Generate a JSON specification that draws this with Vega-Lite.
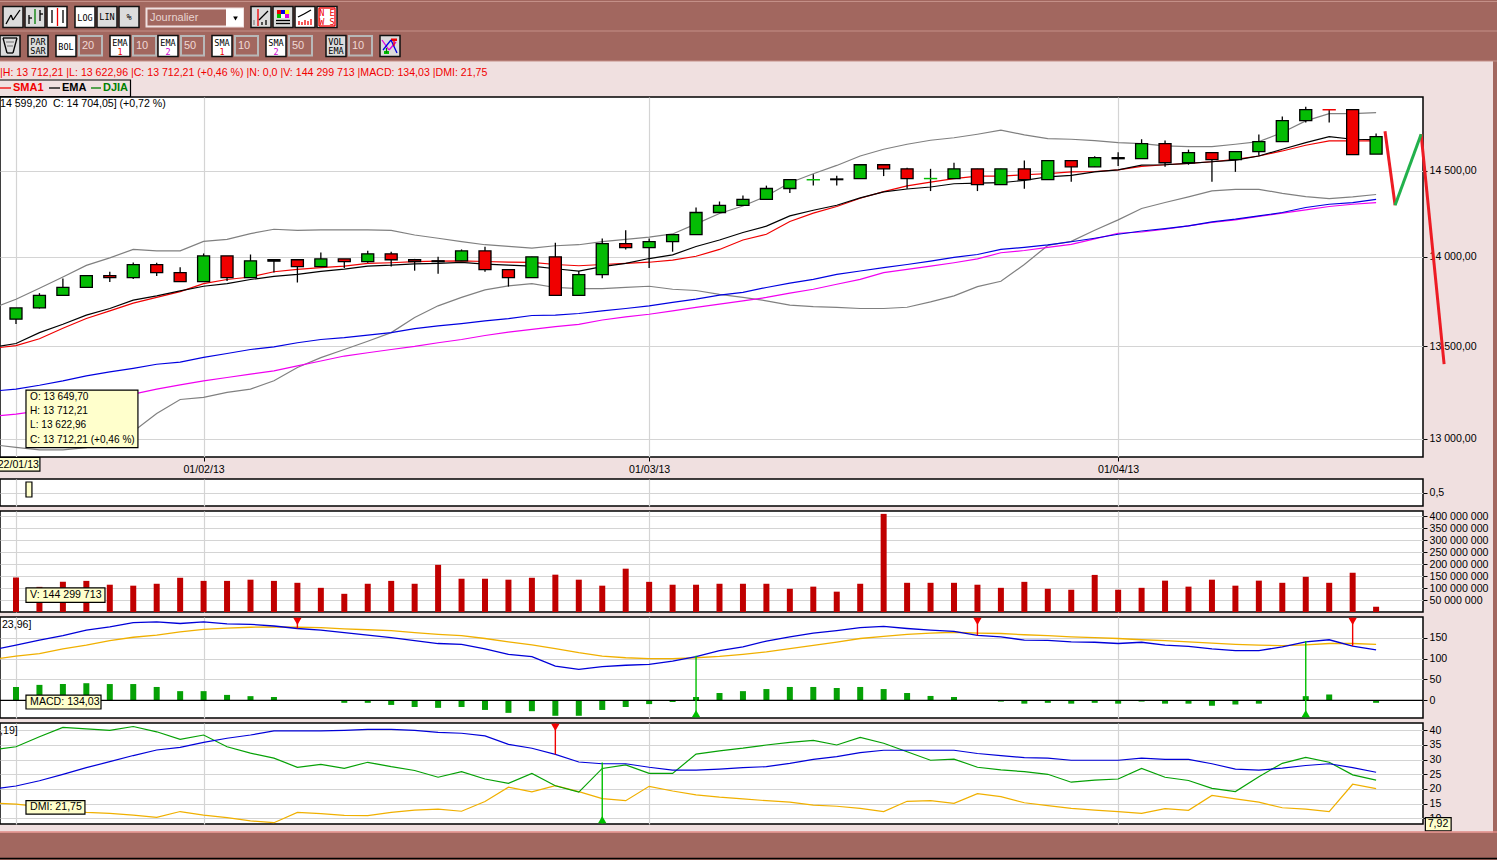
{
"$schema":"https://vega.github.io/schema/vega-lite/v6.json",
"padding":{"left":-2,"top":0,"right":0,"bottom":0},
"autosize":{"type":"pad"},
"background":"#f0e0e0",
"bounds":"flush",
"spacing":0,
"resolve":{"scale":{"color":"independent","fill":"independent","stroke":"independent","shape":"independent"}},
"config":{
"font":"Liberation Sans",
"view":{"stroke":"#000000","fill":"#ffffff","strokeWidth":1.5},
"axis":{"title":null,"grid":true,"gridColor":"#d4d4d4","gridWidth":1.2,"domain":false,"tickColor":"#000000","tickSize":4,"tickCount":20,"labelOverlap":false,"labelColor":"#000000","labelFontSize":10.6,"labelFont":"Liberation Sans","labelPadding":2},
"text":{"font":"Liberation Sans","fontSize":10.6,"baseline":"middle","align":"left"}
},
"datasets":{
"days":[
{"i":-1,"ema":13493,"sma":13488,"up":13711,"lo":12969,"e2":13255,"s2":13120,"macd":121,"sig":98,"adx":20,"pdi":33.3,"mdi":15.2},
{"i":0,"o":13649.7,"h":13712.21,"l":13622.96,"c":13712.21,"dir":"up","ema":13515,"sma":13503,"up":13761,"lo":12955,"e2":13266,"s2":13131,"vol":144299713,"macd":132,"sig":106,"hist":32,"adx":21,"pdi":34.4,"mdi":14.8},
{"i":1,"o":13712,"h":13795,"l":13709,"c":13782,"dir":"up","ema":13575,"sma":13541,"up":13823,"lo":12942,"e2":13287,"s2":13149,"vol":105000000,"macd":144,"sig":112,"hist":37,"adx":22.8,"pdi":37.8,"mdi":14},
{"i":2,"o":13782,"h":13877,"l":13782,"c":13827,"dir":"up","ema":13621,"sma":13599,"up":13886,"lo":12942,"e2":13311,"s2":13176,"vol":126000000,"macd":155,"sig":123,"hist":39,"adx":25,"pdi":41,"mdi":12.8},
{"i":3,"o":13827,"h":13894,"l":13827,"c":13894,"dir":"up","ema":13672,"sma":13653,"up":13952,"lo":12953,"e2":13338,"s2":13197,"vol":130000000,"macd":168,"sig":132,"hist":41,"adx":27.3,"pdi":40.5,"mdi":12},
{"i":4,"o":13894,"h":13916,"l":13858,"c":13883,"dir":"down","ema":13709,"sma":13696,"up":13995,"lo":12996,"e2":13359,"s2":13221,"vol":114000000,"macd":176,"sig":143,"hist":39,"adx":29.3,"pdi":40,"mdi":11.7},
{"i":5,"o":13883,"h":13969,"l":13875,"c":13956,"dir":"up","ema":13756,"sma":13739,"up":14043,"lo":13039,"e2":13379,"s2":13239,"vol":110000000,"macd":186,"sig":151,"hist":39,"adx":31.4,"pdi":41.3,"mdi":11.1},
{"i":6,"o":13956,"h":13967,"l":13892,"c":13911,"dir":"down","ema":13780,"sma":13771,"up":14035,"lo":13135,"e2":13401,"s2":13266,"vol":118000000,"macd":188,"sig":156,"hist":32,"adx":33.3,"pdi":39.5,"mdi":10.3},
{"i":7,"o":13911,"h":13941,"l":13860,"c":13860,"dir":"down","ema":13808,"sma":13804,"up":14035,"lo":13210,"e2":13413,"s2":13289,"vol":143000000,"macd":184,"sig":164,"hist":22,"adx":34.2,"pdi":36.9,"mdi":12.3},
{"i":8,"o":13860,"h":14020,"l":13860,"c":14006,"dir":"up","ema":13834,"sma":13849,"up":14089,"lo":13221,"e2":13439,"s2":13311,"vol":130000000,"macd":188,"sig":170,"hist":22,"adx":35.9,"pdi":38.4,"mdi":11.1},
{"i":9,"o":14006,"h":14006,"l":13864,"c":13883,"dir":"down","ema":13849,"sma":13872,"up":14101,"lo":13248,"e2":13460,"s2":13329,"vol":130000000,"macd":183,"sig":173,"hist":13,"adx":37.3,"pdi":34.4,"mdi":10.2},
{"i":10,"o":13883,"h":14014,"l":13883,"c":13978,"dir":"up","ema":13872,"sma":13886,"up":14134,"lo":13266,"e2":13482,"s2":13347,"vol":135000000,"macd":182,"sig":175,"hist":10,"adx":38.4,"pdi":32.2,"mdi":9.1},
{"i":11,"o":13976,"h":13984,"l":13911,"c":13984,"dir":"doji","ema":13890,"sma":13916,"up":14159,"lo":13311,"e2":13496,"s2":13365,"vol":130000000,"macd":178,"sig":176,"hist":8,"adx":39.8,"pdi":30.5,"mdi":8.5},
{"i":12,"o":13984,"h":13984,"l":13855,"c":13945,"dir":"down","ema":13901,"sma":13929,"up":14153,"lo":13383,"e2":13519,"s2":13392,"vol":122000000,"macd":172,"sig":175,"hist":0,"adx":39.8,"pdi":27.4,"mdi":12},
{"i":13,"o":13945,"h":14026,"l":13945,"c":13989,"dir":"up","ema":13918,"sma":13939,"up":14155,"lo":13437,"e2":13537,"s2":13419,"vol":101000000,"macd":168,"sig":174,"hist":0,"adx":39.8,"pdi":28.4,"mdi":11.6},
{"i":14,"o":13989,"h":13989,"l":13937,"c":13973,"dir":"down","ema":13931,"sma":13948,"up":14155,"lo":13482,"e2":13547,"s2":13446,"vol":76000000,"macd":162,"sig":171,"hist":-6,"adx":40,"pdi":27,"mdi":11},
{"i":15,"o":13973,"h":14035,"l":13967,"c":14018,"dir":"up","ema":13948,"sma":13963,"up":14155,"lo":13527,"e2":13561,"s2":13464,"vol":118000000,"macd":156,"sig":169,"hist":-6,"adx":40.3,"pdi":29.1,"mdi":10.9},
{"i":16,"o":14018,"h":14030,"l":13945,"c":13984,"dir":"down","ema":13953,"sma":13967,"up":14153,"lo":13575,"e2":13575,"s2":13482,"vol":130000000,"macd":150,"sig":167,"hist":-11,"adx":40.3,"pdi":27.6,"mdi":12},
{"i":17,"o":13984,"h":13989,"l":13922,"c":13973,"dir":"down","ema":13961,"sma":13973,"up":14126,"lo":13659,"e2":13597,"s2":13499,"vol":118000000,"macd":143,"sig":162,"hist":-16,"adx":40,"pdi":26.3,"mdi":12.8},
{"i":18,"o":13973,"h":14001,"l":13905,"c":13978,"dir":"doji","ema":13963,"sma":13976,"up":14107,"lo":13724,"e2":13612,"s2":13519,"vol":197000000,"macd":136,"sig":158,"hist":-18,"adx":39.3,"pdi":24,"mdi":13.1},
{"i":19,"o":13978,"h":14043,"l":13978,"c":14035,"dir":"up","ema":13969,"sma":13978,"up":14088,"lo":13771,"e2":13625,"s2":13537,"vol":139000000,"macd":134,"sig":155,"hist":-16,"adx":39,"pdi":25.9,"mdi":12.4},
{"i":20,"o":14035,"h":14059,"l":13916,"c":13928,"dir":"down","ema":13959,"sma":13974,"up":14070,"lo":13813,"e2":13640,"s2":13559,"vol":139000000,"macd":123,"sig":148,"hist":-23,"adx":38.1,"pdi":23.4,"mdi":15.7},
{"i":21,"o":13928,"h":13928,"l":13832,"c":13883,"dir":"down","ema":13953,"sma":13971,"up":14060,"lo":13836,"e2":13653,"s2":13578,"vol":135000000,"macd":110,"sig":140,"hist":-30,"adx":35.2,"pdi":21.9,"mdi":20.6},
{"i":22,"o":13883,"h":14001,"l":13883,"c":14001,"dir":"up","ema":13948,"sma":13969,"up":14051,"lo":13849,"e2":13670,"s2":13593,"vol":143000000,"macd":104.5,"sig":133,"hist":-26,"adx":33.9,"pdi":25.3,"mdi":19},
{"i":23,"o":14001,"h":14082,"l":13782,"c":13782,"dir":"down","ema":13933,"sma":13957,"up":14064,"lo":13827,"e2":13672,"s2":13608,"vol":156000000,"macd":82,"sig":124,"hist":-37,"adx":31.8,"pdi":21.1,"mdi":21.1},
{"i":24,"o":13782,"h":13920,"l":13782,"c":13900,"dir":"up","ema":13920,"sma":13950,"up":14070,"lo":13821,"e2":13681,"s2":13621,"vol":135000000,"macd":74,"sig":114,"hist":-37,"adx":29.2,"pdi":18.9,"mdi":19.1},
{"i":25,"o":13900,"h":14105,"l":13879,"c":14076,"dir":"up","ema":13945,"sma":13957,"up":14088,"lo":13821,"e2":13696,"s2":13645,"vol":110000000,"macd":80.5,"sig":106,"hist":-23,"adx":28.6,"pdi":27,"mdi":16.7},
{"i":26,"o":14076,"h":14153,"l":14043,"c":14053,"dir":"down","ema":13963,"sma":13963,"up":14101,"lo":13827,"e2":13709,"s2":13662,"vol":181000000,"macd":84,"sig":102,"hist":-16,"adx":28.6,"pdi":28.2,"mdi":16},
{"i":27,"o":14053,"h":14105,"l":13937,"c":14088,"dir":"up","ema":13991,"sma":13970,"up":14114,"lo":13834,"e2":13724,"s2":13677,"vol":126000000,"macd":86,"sig":99.7,"hist":-9,"adx":27.4,"pdi":25.3,"mdi":20.9},
{"i":28,"o":14088,"h":14128,"l":14030,"c":14128,"dir":"up","ema":14012,"sma":13982,"up":14132,"lo":13817,"e2":13743,"s2":13696,"vol":114000000,"macd":94,"sig":99.7,"hist":-4,"adx":26.4,"pdi":25.3,"mdi":19.3},
{"i":29,"o":14128,"h":14285,"l":14128,"c":14256,"dir":"up","ema":14060,"sma":14004,"up":14190,"lo":13810,"e2":13761,"s2":13715,"vol":114000000,"macd":104.5,"sig":102,"hist":8,"adx":26.4,"pdi":31.9,"mdi":18},
{"i":30,"o":14256,"h":14320,"l":14256,"c":14297,"dir":"up","ema":14097,"sma":14043,"up":14250,"lo":13788,"e2":13784,"s2":13733,"vol":118000000,"macd":119,"sig":105,"hist":17.5,"adx":26.8,"pdi":33,"mdi":17.2},
{"i":31,"o":14297,"h":14355,"l":14297,"c":14332,"dir":"up","ema":14140,"sma":14097,"up":14294,"lo":13771,"e2":13799,"s2":13752,"vol":118000000,"macd":128,"sig":110,"hist":22,"adx":27.3,"pdi":33.9,"mdi":16.6},
{"i":32,"o":14332,"h":14413,"l":14332,"c":14396,"dir":"up","ema":14177,"sma":14130,"up":14352,"lo":13752,"e2":13827,"s2":13771,"vol":118000000,"macd":142,"sig":116,"hist":27,"adx":27.6,"pdi":35,"mdi":16},
{"i":33,"o":14396,"h":14448,"l":14370,"c":14448,"dir":"up","ema":14236,"sma":14204,"up":14430,"lo":13728,"e2":13851,"s2":13795,"vol":97000000,"macd":152,"sig":124,"hist":32,"adx":28.75,"pdi":35.9,"mdi":15.5},
{"i":34,"o":14447,"h":14480,"l":14413,"c":14448,"dir":"dojiup","ema":14269,"sma":14252,"up":14483,"lo":13720,"e2":13873,"s2":13817,"vol":106000000,"macd":161,"sig":131.5,"hist":32,"adx":30.1,"pdi":36.6,"mdi":14.5},
{"i":35,"o":14448,"h":14471,"l":14413,"c":14452,"dir":"doji","ema":14298,"sma":14291,"up":14532,"lo":13715,"e2":13901,"s2":13845,"vol":85000000,"macd":167,"sig":139.5,"hist":29.5,"adx":31,"pdi":35,"mdi":14.1},
{"i":36,"o":14454,"h":14536,"l":14454,"c":14536,"dir":"up","ema":14341,"sma":14339,"up":14588,"lo":13709,"e2":13920,"s2":13873,"vol":118000000,"macd":174,"sig":148,"hist":32,"adx":32.4,"pdi":37.6,"mdi":13.4},
{"i":37,"o":14536,"h":14536,"l":14469,"c":14512,"dir":"down","ema":14376,"sma":14378,"up":14628,"lo":13709,"e2":13939,"s2":13911,"vol":410000000,"macd":177,"sig":153,"hist":27,"adx":33.2,"pdi":35.6,"mdi":12.3},
{"i":38,"o":14512,"h":14518,"l":14395,"c":14454,"dir":"down","ema":14393,"sma":14411,"up":14658,"lo":13716,"e2":13957,"s2":13929,"vol":122000000,"macd":172,"sig":158,"hist":17.5,"adx":33.2,"pdi":32.7,"mdi":15.8},
{"i":39,"o":14454,"h":14512,"l":14381,"c":14455,"dir":"dojiup","ema":14405,"sma":14434,"up":14682,"lo":13746,"e2":13976,"s2":13948,"vol":122000000,"macd":168,"sig":161,"hist":10.5,"adx":33.2,"pdi":29.8,"mdi":16},
{"i":40,"o":14454,"h":14548,"l":14454,"c":14512,"dir":"up","ema":14424,"sma":14454,"up":14697,"lo":13780,"e2":13998,"s2":13967,"vol":122000000,"macd":165,"sig":163,"hist":8,"adx":33.2,"pdi":30.2,"mdi":15.1},
{"i":41,"o":14512,"h":14512,"l":14381,"c":14419,"dir":"down","ema":14428,"sma":14469,"up":14718,"lo":13832,"e2":14014,"s2":13989,"vol":114000000,"macd":155.5,"sig":161,"hist":0,"adx":32.1,"pdi":27.4,"mdi":18.4},
{"i":42,"o":14419,"h":14512,"l":14419,"c":14512,"dir":"up","ema":14430,"sma":14469,"up":14742,"lo":13862,"e2":14043,"s2":14024,"vol":101000000,"macd":152,"sig":160,"hist":-3,"adx":31.4,"pdi":26.5,"mdi":17.4},
{"i":43,"o":14512,"h":14562,"l":14395,"c":14448,"dir":"down","ema":14444,"sma":14477,"up":14714,"lo":13957,"e2":14055,"s2":14037,"vol":126000000,"macd":144,"sig":157,"hist":-8,"adx":30.7,"pdi":25.9,"mdi":15.3},
{"i":44,"o":14448,"h":14560,"l":14448,"c":14560,"dir":"up","ema":14465,"sma":14484,"up":14692,"lo":14066,"e2":14069,"s2":14055,"vol":97000000,"macd":143.5,"sig":155,"hist":-6,"adx":30.5,"pdi":25,"mdi":14.3},
{"i":45,"o":14560,"h":14560,"l":14436,"c":14524,"dir":"down","ema":14473,"sma":14494,"up":14688,"lo":14089,"e2":14087,"s2":14072,"vol":93000000,"macd":140,"sig":152,"hist":-8,"adx":29.8,"pdi":22.3,"mdi":13.4},
{"i":46,"o":14524,"h":14586,"l":14524,"c":14578,"dir":"up","ema":14494,"sma":14496,"up":14680,"lo":14153,"e2":14107,"s2":14104,"vol":155000000,"macd":139,"sig":150,"hist":-6,"adx":29.8,"pdi":23,"mdi":12.8},
{"i":47,"o":14572,"h":14610,"l":14528,"c":14578,"dir":"doji","ema":14506,"sma":14506,"up":14668,"lo":14213,"e2":14130,"s2":14136,"vol":93000000,"macd":136,"sig":148,"hist":-8,"adx":29.8,"pdi":23.4,"mdi":12.3},
{"i":48,"o":14572,"h":14688,"l":14572,"c":14662,"dir":"up","ema":14534,"sma":14526,"up":14662,"lo":14279,"e2":14149,"s2":14143,"vol":101000000,"macd":139,"sig":145,"hist":-3,"adx":30.5,"pdi":27,"mdi":11.7},
{"i":49,"o":14662,"h":14680,"l":14524,"c":14548,"dir":"down","ema":14536,"sma":14536,"up":14648,"lo":14314,"e2":14163,"s2":14159,"vol":131000000,"macd":132,"sig":143,"hist":-8,"adx":30.1,"pdi":24,"mdi":13.3},
{"i":50,"o":14548,"h":14626,"l":14536,"c":14608,"dir":"up","ema":14544,"sma":14544,"up":14644,"lo":14347,"e2":14178,"s2":14178,"vol":106000000,"macd":129,"sig":140,"hist":-8,"adx":30.1,"pdi":22.9,"mdi":12.7},
{"i":51,"o":14608,"h":14608,"l":14436,"c":14566,"dir":"down","ema":14554,"sma":14554,"up":14644,"lo":14382,"e2":14202,"s2":14198,"vol":135000000,"macd":123,"sig":137,"hist":-13,"adx":28.6,"pdi":20.2,"mdi":17.8},
{"i":52,"o":14566,"h":14614,"l":14494,"c":14614,"dir":"up","ema":14564,"sma":14568,"up":14658,"lo":14391,"e2":14217,"s2":14213,"vol":110000000,"macd":119,"sig":134,"hist":-10,"adx":26.8,"pdi":19.1,"mdi":16.6},
{"i":53,"o":14614,"h":14716,"l":14590,"c":14674,"dir":"up","ema":14588,"sma":14588,"up":14674,"lo":14391,"e2":14236,"s2":14233,"vol":131000000,"macd":119,"sig":132,"hist":-8,"adx":26.4,"pdi":24.2,"mdi":15.5},
{"i":54,"o":14674,"h":14824,"l":14674,"c":14800,"dir":"up","ema":14628,"sma":14618,"up":14728,"lo":14368,"e2":14256,"s2":14252,"vol":122000000,"macd":128,"sig":131,"hist":0,"adx":27.1,"pdi":28.75,"mdi":13.6},
{"i":55,"o":14800,"h":14884,"l":14788,"c":14866,"dir":"up","ema":14668,"sma":14652,"up":14798,"lo":14349,"e2":14285,"s2":14271,"vol":147000000,"macd":140,"sig":133,"hist":10,"adx":28,"pdi":30.8,"mdi":13.1},
{"i":56,"o":14866,"h":14866,"l":14788,"c":14865,"dir":"dojidown","ema":14704,"sma":14678,"up":14842,"lo":14337,"e2":14304,"s2":14291,"vol":122000000,"macd":145,"sig":136,"hist":14,"adx":28.6,"pdi":29.1,"mdi":12.3},
{"i":57,"o":14866,"h":14866,"l":14596,"c":14596,"dir":"down","ema":14688,"sma":14678,"up":14842,"lo":14347,"e2":14314,"s2":14304,"vol":164000000,"macd":130,"sig":136,"hist":0,"adx":27.3,"pdi":24.8,"mdi":21.6},
{"i":58,"o":14599.2,"h":14722,"l":14599.2,"c":14704.05,"dir":"up","ema":14686,"sma":14678,"up":14848,"lo":14361,"e2":14332,"s2":14314,"vol":22000000,"macd":121,"sig":134,"hist":-6,"adx":25.7,"pdi":23,"mdi":20.1}
],
"zigzag":[
{"i":58.38,"v":14736,"leg":"a"},{"i":58.81,"v":14298,"leg":"a"},
{"i":58.81,"v":14298,"leg":"b"},{"i":59.92,"v":14718,"leg":"b"},
{"i":59.92,"v":14718,"leg":"c"},{"i":60.9,"v":13402,"leg":"c"}
],
"buttons":[
{"x0":3,"x1":23,"y0":6.5,"y1":27.5,"face":"grey"},{"x0":25,"x1":45,"y0":6.5,"y1":27.5,"face":"grey"},{"x0":47,"x1":67,"y0":6.5,"y1":27.5,"face":"white"},
{"x0":75,"x1":95,"y0":6.5,"y1":27.5,"face":"white"},{"x0":97,"x1":117,"y0":6.5,"y1":27.5,"face":"grey"},{"x0":119,"x1":139,"y0":6.5,"y1":27.5,"face":"grey"},
{"x0":251,"x1":271,"y0":6.5,"y1":27.5,"face":"grey"},{"x0":273,"x1":293,"y0":6.5,"y1":27.5,"face":"grey"},{"x0":295,"x1":315,"y0":6.5,"y1":27.5,"face":"white"},{"x0":317,"x1":337,"y0":6.5,"y1":27.5,"face":"white"},
{"x0":0,"x1":20,"y0":35.5,"y1":56.5,"face":"grey"},{"x0":28,"x1":48,"y0":35.5,"y1":56.5,"face":"grey"},{"x0":56,"x1":76,"y0":35.5,"y1":56.5,"face":"white"},
{"x0":110,"x1":130,"y0":35.5,"y1":56.5,"face":"white"},{"x0":158,"x1":178,"y0":35.5,"y1":56.5,"face":"white"},{"x0":212,"x1":232,"y0":35.5,"y1":56.5,"face":"white"},{"x0":266,"x1":286,"y0":35.5,"y1":56.5,"face":"white"},
{"x0":326,"x1":346,"y0":35.5,"y1":56.5,"face":"grey"},{"x0":380,"x1":400,"y0":35.5,"y1":56.5,"face":"grey"}
],
"boxes":[
{"x0":79,"x1":102,"y0":36,"y1":55.5,"t":"20","tx":88},{"x0":133,"x1":156,"y0":36,"y1":55.5,"t":"10","tx":142},{"x0":181,"x1":204,"y0":36,"y1":55.5,"t":"50","tx":190},
{"x0":235,"x1":258,"y0":36,"y1":55.5,"t":"10","tx":244},{"x0":289,"x1":312,"y0":36,"y1":55.5,"t":"50","tx":298},{"x0":349,"x1":372,"y0":36,"y1":55.5,"t":"10","tx":358}
],
"captions":[
{"t":"LOG","x":85,"y":18,"ink":"ink"},{"t":"LIN","x":107,"y":17,"ink":"ink"},{"t":"%","x":129,"y":17,"ink":"ink"},
{"t":"PAR","x":38,"y":41.5,"ink":"ink"},{"t":"SAR","x":38,"y":50.5,"ink":"ink"},{"t":"BOL","x":66,"y":46.5,"ink":"ink"},
{"t":"EMA","x":120,"y":43,"ink":"ink"},{"t":"1","x":120,"y":52,"ink":"red"},{"t":"EMA","x":168,"y":43,"ink":"ink"},{"t":"2","x":168,"y":52,"ink":"magenta"},
{"t":"SMA","x":222,"y":43,"ink":"ink"},{"t":"1","x":222,"y":52,"ink":"red"},{"t":"SMA","x":276,"y":43,"ink":"ink"},{"t":"2","x":276,"y":52,"ink":"magenta"},
{"t":"VOL","x":336,"y":41.5,"ink":"ink"},{"t":"EMA","x":336,"y":50.5,"ink":"ink"},
{"t":"N E","x":327,"y":12.5,"ink":"red"},{"t":"W S","x":327,"y":21.5,"ink":"red"}
],
"segments":[
{"x":6,"y":24,"x2":11,"y2":15,"c":"ink"},{"x":11,"y":15,"x2":13,"y2":20,"c":"ink"},{"x":13,"y":20,"x2":20,"y2":10,"c":"ink"},
{"x":29,"y":15,"x2":29,"y2":24,"c":"ink"},{"x":35,"y":9,"x2":35,"y2":24,"c":"green"},{"x":40,"y":10,"x2":40,"y2":21,"c":"ink"},{"x":29,"y":18,"x2":32,"y2":18,"c":"ink"},{"x":40,"y":14,"x2":43,"y2":14,"c":"ink"},
{"x":52,"y":10,"x2":52,"y2":23,"c":"ink"},{"x":57.5,"y":8,"x2":57.5,"y2":26,"c":"red"},{"x":63,"y":10,"x2":63,"y2":23,"c":"ink"},
{"x":258,"y":9,"x2":258,"y2":26,"c":"red"},{"x":259,"y":20,"x2":263,"y2":16,"c":"ink"},{"x":263,"y":16,"x2":268,"y2":11,"c":"ink"},{"x":254,"y":20,"x2":254,"y2":25,"c":"mid"},{"x":262,"y":22,"x2":262,"y2":25,"c":"ink"},{"x":266,"y":20,"x2":266,"y2":25,"c":"ink"},
{"x":276,"y":20.5,"x2":290,"y2":20.5,"c":"ink"},{"x":276,"y":23.5,"x2":290,"y2":23.5,"c":"ink"},
{"x":298,"y":17,"x2":304,"y2":14,"c":"ink"},{"x":304,"y":14,"x2":311,"y2":10,"c":"ink"},{"x":299,"y":21,"x2":299,"y2":25,"c":"red"},{"x":302,"y":22,"x2":302,"y2":25,"c":"red"},{"x":305,"y":20,"x2":305,"y2":25,"c":"red"},{"x":308,"y":21,"x2":308,"y2":25,"c":"red"},{"x":311,"y":19,"x2":311,"y2":25,"c":"red"},
{"x":319,"y":8,"x2":335,"y2":8,"c":"red"},{"x":319,"y":26,"x2":335,"y2":26,"c":"red"},{"x":319,"y":8,"x2":319,"y2":26,"c":"red"},{"x":335,"y":8,"x2":335,"y2":26,"c":"red"},
{"x":3,"y":38,"x2":17,"y2":38,"c":"ink"},{"x":3,"y":38,"x2":7,"y2":53,"c":"ink"},{"x":17,"y":38,"x2":13,"y2":53,"c":"ink"},{"x":7,"y":53,"x2":13,"y2":53,"c":"ink"},{"x":6,"y":42,"x2":14,"y2":42,"c":"mid"},{"x":7,"y":46,"x2":13,"y2":46,"c":"mid"},
{"x":382,"y":40,"x2":389,"y2":50,"c":"magenta"},{"x":389,"y":50,"x2":396,"y2":42,"c":"magenta"},{"x":383,"y":50,"x2":391,"y2":40,"c":"blue"},{"x":391,"y":40,"x2":397,"y2":53,"c":"blue"},{"x":386.5,"y":48,"x2":386.5,"y2":53,"c":"green"},{"x":394,"y":40,"x2":394,"y2":46,"c":"red"},
{"x":0,"y":88,"x2":11,"y2":88,"c":"red"},{"x":49,"y":88,"x2":60,"y2":88,"c":"ink"},{"x":91,"y":88,"x2":101,"y2":88,"c":"green"}
],
"swatches":[
{"x0":277,"x1":281,"y0":10,"y1":14,"face":"red"},{"x0":281,"x1":285,"y0":10,"y1":14,"face":"blue"},{"x0":285,"x1":289,"y0":10,"y1":14,"face":"yellow"},
{"x0":277,"x1":281,"y0":14,"y1":18,"face":"green"},{"x0":281,"x1":285,"y0":14,"y1":18,"face":"white"},{"x0":285,"x1":289,"y0":14,"y1":18,"face":"magenta"},
{"x0":384,"x1":389,"y0":51,"y1":54,"face":"green"},{"x0":391,"x1":397,"y0":38.5,"y1":41,"face":"red"}
]
},
"vconcat":[
{
"width":1497,"height":97,"view":{"stroke":null,"fill":null},
"layer":[
{"data":{"values":[{"x0":0,"x1":1497,"y0":0,"y1":61}]},"mark":{"type":"rect","color":"#a2675f"},
 "encoding":{"x":{"field":"x0","type":"quantitative","scale":{"domain":[0,1497]},"axis":null},"x2":{"field":"x1"},"y":{"field":"y0","type":"quantitative","scale":{"domain":[97,0]},"axis":null},"y2":{"field":"y1"}}},
{"data":{"values":[{"x0":1493,"x1":1497,"y0":61,"y1":860}]},"mark":{"type":"rect","color":"#a2675f","clip":false},
 "encoding":{"x":{"field":"x0","type":"quantitative","scale":{"domain":[0,1497]},"axis":null},"x2":{"field":"x1"},"y":{"field":"y0","type":"quantitative","scale":{"domain":[97,0]},"axis":null},"y2":{"field":"y1"}}},
{"data":{"values":[{"y":1.5},{"y":31},{"y":61}]},"mark":{"type":"rule","color":"#c49088","strokeWidth":1},
 "encoding":{"y":{"field":"y","type":"quantitative","scale":{"domain":[97,0]},"axis":null}}},
{"data":{"name":"buttons"},"mark":{"type":"rect","stroke":"#111111","strokeWidth":1.5},
 "encoding":{"x":{"field":"x0","type":"quantitative","scale":{"domain":[0,1497]},"axis":null},"x2":{"field":"x1"},"y":{"field":"y0","type":"quantitative","scale":{"domain":[97,0]},"axis":null},"y2":{"field":"y1"},
 "fill":{"field":"face","type":"nominal","legend":null,"scale":{"domain":["white","grey","red","blue","yellow","green","magenta"],"range":["#ffffff","#dcdcdc","#f00000","#0000e0","#ffff00","#00c000","#e000e0"]}}}},
{"data":{"name":"swatches"},"mark":{"type":"rect"},
 "encoding":{"x":{"field":"x0","type":"quantitative","scale":{"domain":[0,1497]},"axis":null},"x2":{"field":"x1"},"y":{"field":"y0","type":"quantitative","scale":{"domain":[97,0]},"axis":null},"y2":{"field":"y1"},
 "fill":{"field":"face","type":"nominal","legend":null,"scale":{"domain":["white","grey","red","blue","yellow","green","magenta"],"range":["#ffffff","#dcdcdc","#f00000","#0000e0","#ffff00","#00c000","#e000e0"]}}}},
{"data":{"name":"boxes"},"mark":{"type":"rect","stroke":"#b8b8b8","strokeWidth":2,"fill":"#a2675f"},
 "encoding":{"x":{"field":"x0","type":"quantitative","scale":{"domain":[0,1497]},"axis":null},"x2":{"field":"x1"},"y":{"field":"y0","type":"quantitative","scale":{"domain":[97,0]},"axis":null},"y2":{"field":"y1"}}},
{"data":{"name":"boxes"},"mark":{"type":"text","align":"center","fontSize":11,"color":"#f0d8d4"},
 "encoding":{"x":{"field":"tx","type":"quantitative","scale":{"domain":[0,1497]},"axis":null},"y":{"datum":46,"type":"quantitative","scale":{"domain":[97,0]},"axis":null},"text":{"field":"t"}}},
{"data":{"values":[{"x0":146.5,"x1":243,"y0":8.5,"y1":26.5}]},"mark":{"type":"rect","stroke":"#f0e0e0","strokeWidth":2,"fill":"#a2675f"},
 "encoding":{"x":{"field":"x0","type":"quantitative","scale":{"domain":[0,1497]},"axis":null},"x2":{"field":"x1"},"y":{"field":"y0","type":"quantitative","scale":{"domain":[97,0]},"axis":null},"y2":{"field":"y1"}}},
{"data":{"values":[{"x0":226,"x1":243,"y0":8.5,"y1":26.5}]},"mark":{"type":"rect","fill":"#ffffff"},
 "encoding":{"x":{"field":"x0","type":"quantitative","scale":{"domain":[0,1497]},"axis":null},"x2":{"field":"x1"},"y":{"field":"y0","type":"quantitative","scale":{"domain":[97,0]},"axis":null},"y2":{"field":"y1"}}},
{"data":{"values":[{"x":235.5,"y":18.5}]},"mark":{"type":"point","shape":"triangle-down","filled":true,"color":"#000000","size":22,"opacity":1},
 "encoding":{"x":{"field":"x","type":"quantitative","scale":{"domain":[0,1497]},"axis":null},"y":{"field":"y","type":"quantitative","scale":{"domain":[97,0]},"axis":null}}},
{"data":{"values":[{"x":150,"y":18,"t":"Journalier"}]},"mark":{"type":"text","fontSize":11,"color":"#e8d4d0"},
 "encoding":{"x":{"field":"x","type":"quantitative","scale":{"domain":[0,1497]},"axis":null},"y":{"field":"y","type":"quantitative","scale":{"domain":[97,0]},"axis":null},"text":{"field":"t"}}},
{"data":{"values":[{"x0":-1,"x1":130.5,"y0":80,"y1":96.5}]},"mark":{"type":"rect","fill":"#f0e0e0","stroke":"#000000","strokeWidth":1.2,"clip":true},
 "encoding":{"x":{"field":"x0","type":"quantitative","scale":{"domain":[0,1497]},"axis":null},"x2":{"field":"x1"},"y":{"field":"y0","type":"quantitative","scale":{"domain":[97,0]},"axis":null},"y2":{"field":"y1"}}},
{"data":{"name":"segments"},"mark":{"type":"rule","strokeWidth":1.3},
 "encoding":{"x":{"field":"x","type":"quantitative","scale":{"domain":[0,1497]},"axis":null},"y":{"field":"y","type":"quantitative","scale":{"domain":[97,0]},"axis":null},"x2":{"field":"x2"},"y2":{"field":"y2"},
 "stroke":{"field":"c","type":"nominal","legend":null,"scale":{"domain":["ink","red","green","blue","magenta","mid"],"range":["#000000","#f00000","#008000","#0000e0","#e000e0","#888888"]}}}},
{"data":{"name":"captions"},"mark":{"type":"text","align":"center","fontSize":8.5,"font":"DejaVu Sans Mono"},
 "encoding":{"x":{"field":"x","type":"quantitative","scale":{"domain":[0,1497]},"axis":null},"y":{"field":"y","type":"quantitative","scale":{"domain":[97,0]},"axis":null},"text":{"field":"t"},
 "color":{"field":"ink","type":"nominal","legend":null,"scale":{"domain":["ink","red","magenta","green"],"range":["#000000","#f00000","#d000d0","#008000"]}}}},
{"data":{"values":[{"x":0,"y":72.5,"t":"|H: 13 712,21 |L: 13 622,96 |C: 13 712,21 (+0,46 %) |N: 0,0 |V: 144 299 713 |MACD: 134,03 |DMI: 21,75","ink":"red"}]},"mark":{"type":"text","fontSize":10.6},
 "encoding":{"x":{"field":"x","type":"quantitative","scale":{"domain":[0,1497]},"axis":null},"y":{"field":"y","type":"quantitative","scale":{"domain":[97,0]},"axis":null},"text":{"field":"t"},
 "color":{"field":"ink","type":"nominal","legend":null,"scale":{"domain":["ink","red","magenta","green"],"range":["#000000","#f00000","#d000d0","#008000"]}}}},
{"data":{"values":[{"x":13,"y":88,"t":"SMA1","ink":"red"},{"x":62,"y":88,"t":"EMA","ink":"ink"},{"x":103,"y":88,"t":"DJIA","ink":"green"}]},"mark":{"type":"text","fontSize":11,"fontWeight":"bold"},
 "encoding":{"x":{"field":"x","type":"quantitative","scale":{"domain":[0,1497]},"axis":null},"y":{"field":"y","type":"quantitative","scale":{"domain":[97,0]},"axis":null},"text":{"field":"t"},
 "color":{"field":"ink","type":"nominal","legend":null,"scale":{"domain":["ink","red","magenta","green"],"range":["#000000","#f00000","#d000d0","#008000"]}}}}
]
},
{
"width":1423,"height":360,
"layer":[
{"data":{"name":"days"},
 "transform":[{"fold":["up","lo","s2","e2","sma","ema"],"as":["series","value"]}],
 "mark":{"type":"line","strokeWidth":1.2,"clip":true},
 "encoding":{
 "x":{"field":"i","type":"quantitative","scale":{"domain":[-0.682,60],"padding":0,"nice":false},
  "axis":{"values":[0,8,27,47],"grid":true,"orient":"bottom","labelPadding":3,"labelExpr":"datum.value==8?'01/02/13':datum.value==27?'01/03/13':datum.value==47?'01/04/13':''"}},
 "y":{"field":"value","type":"quantitative","scale":{"type":"log","domain":[12904,14943]},
  "axis":{"orient":"right","values":[13000,13500,14000,14500],"labelExpr":"replace(format(datum.value,',d'),',',' ')+',00'"}},
 "color":{"field":"series","type":"nominal","legend":null,"scale":{"domain":["up","lo","s2","e2","sma","ema"],"range":["#808080","#808080","#f000f0","#0000e0","#f00000","#000000"]}}}},
{"data":{"name":"days"},"mark":{"type":"rule","color":"#000000","strokeWidth":1.3},
 "encoding":{"x":{"field":"i","type":"quantitative","scale":{"domain":[-0.682,60],"padding":0,"nice":false}},"y":{"field":"l","type":"quantitative","scale":{"type":"log","domain":[12904,14943]}},"y2":{"field":"h"}}},
{"data":{"name":"days"},"mark":{"type":"bar","width":12,"strokeWidth":1.3,"orient":"vertical"},
 "encoding":{"x":{"field":"i","type":"quantitative","scale":{"domain":[-0.682,60],"padding":0,"nice":false}},"y":{"field":"o","type":"quantitative","scale":{"type":"log","domain":[12904,14943]}},"y2":{"field":"c"},
 "fill":{"field":"dir","type":"nominal","legend":null,"scale":{"domain":["up","down","doji","dojiup","dojidown"],"range":["#04bc04","#f00000","#000000","#04bc04","#f00000"]}},
 "stroke":{"field":"dir","type":"nominal","legend":null,"scale":{"domain":["up","down","doji","dojiup","dojidown"],"range":["#000000","#000000","#000000","#04bc04","#f00000"]}}}},
{"data":{"name":"zigzag"},"transform":[{"filter":"datum.leg!='b'"}],"mark":{"type":"line","color":"#ed1c24","strokeWidth":3,"clip":false},
 "encoding":{"x":{"field":"i","type":"quantitative","scale":{"domain":[-0.682,60],"padding":0,"nice":false}},"y":{"field":"v","type":"quantitative","scale":{"type":"log","domain":[12904,14943]}},"detail":{"field":"leg"}}},
{"data":{"name":"zigzag"},"transform":[{"filter":"datum.leg=='b'"}],"mark":{"type":"line","color":"#22b14c","strokeWidth":3,"clip":false},
 "encoding":{"x":{"field":"i","type":"quantitative","scale":{"domain":[-0.682,60],"padding":0,"nice":false}},"y":{"field":"v","type":"quantitative","scale":{"type":"log","domain":[12904,14943]}},"detail":{"field":"leg"}}},
{"data":{"values":[{"a":0.426,"b":5.2,"lo":12953,"hi":13261}]},"mark":{"type":"rect","fill":"#ffffcc","stroke":"#000000","strokeWidth":1.2},
 "encoding":{"x":{"field":"a","type":"quantitative","scale":{"domain":[-0.682,60],"padding":0,"nice":false}},"x2":{"field":"b"},"y":{"field":"lo","type":"quantitative","scale":{"type":"log","domain":[12904,14943]}},"y2":{"field":"hi"}}},
{"data":{"values":[{"a":0.6,"v":13223,"t":"O: 13 649,70"},{"a":0.6,"v":13147,"t":"H: 13 712,21"},{"a":0.6,"v":13072,"t":"L: 13 622,96"},{"a":0.6,"v":12996,"t":"C: 13 712,21 (+0,46 %)"}]},"mark":{"type":"text","color":"#000000","fontSize":10.1},
 "encoding":{"x":{"field":"a","type":"quantitative","scale":{"domain":[-0.682,60],"padding":0,"nice":false}},"y":{"field":"v","type":"quantitative","scale":{"type":"log","domain":[12904,14943]}},"text":{"field":"t"}}},
{"data":{"values":[{"a":-0.682,"v":14898,"t":"14 599,20  \u00a0C: 14 704,05] (+0,72 %)"}]},"mark":{"type":"text","color":"#000000"},
 "encoding":{"x":{"field":"a","type":"quantitative","scale":{"domain":[-0.682,60],"padding":0,"nice":false}},"y":{"field":"v","type":"quantitative","scale":{"type":"log","domain":[12904,14943]}},"text":{"field":"t"}}}
]
},
{
"width":1423,"height":21.5,"view":{"stroke":null,"fill":null},
"layer":[
{"data":{"values":[{"a":-1,"b":1.02,"lo":0.02,"hi":0.66}]},"mark":{"type":"rect","fill":"#ffffcc","stroke":"#000000","strokeWidth":1.2,"clip":true},
 "encoding":{"x":{"field":"a","type":"quantitative","scale":{"domain":[-0.682,60],"padding":0,"nice":false},"axis":null},"x2":{"field":"b"},"y":{"field":"lo","type":"quantitative","scale":{"domain":[1,0]},"axis":null},"y2":{"field":"hi"}}},
{"data":{"values":[{"a":0.98,"v":0.36,"t":"22/01/13"}]},"mark":{"type":"text","align":"right","color":"#000000","clip":true},
 "encoding":{"x":{"field":"a","type":"quantitative","scale":{"domain":[-0.682,60],"padding":0,"nice":false},"axis":null},"y":{"field":"v","type":"quantitative","scale":{"domain":[1,0]},"axis":null},"text":{"field":"t"}}}
]
},
{
"width":1423,"height":27,
"layer":[
{"data":{"values":[{"a":0.426,"b":0.68,"lo":0.333,"hi":0.889}]},"mark":{"type":"rect","fill":"#ffffcc","stroke":"#000000","strokeWidth":1.2},
 "encoding":{"x":{"field":"a","type":"quantitative","scale":{"domain":[-0.682,60],"padding":0,"nice":false},"axis":{"values":[0,8,27,47],"labels":false,"ticks":false}},"x2":{"field":"b"},
 "y":{"field":"lo","type":"quantitative","scale":{"domain":[0,1]},"axis":{"orient":"right","values":[0.5],"labelExpr":"'0,5'"}},"y2":{"field":"hi"}}}
]
},
{"width":1423,"height":5,"view":{"stroke":null,"fill":null},"data":{"values":[{"g":0}]},"mark":{"type":"rule","opacity":0},"encoding":{"y":{"field":"g","type":"quantitative","axis":null}}},
{
"width":1423,"height":101,
"layer":[
{"data":{"name":"days"},"mark":{"type":"bar","width":6,"color":"#c00000","clip":true},
 "encoding":{"x":{"field":"i","type":"quantitative","scale":{"domain":[-0.682,60],"padding":0,"nice":false},"axis":{"values":[0,8,27,47],"labels":false,"ticks":false}},
 "y":{"field":"vol","type":"quantitative","stack":null,"scale":{"domain":[0,422000000]},
  "axis":{"orient":"right","values":[50000000,100000000,150000000,200000000,250000000,300000000,350000000,400000000],"labelExpr":"replace(format(datum.value,',d'),/,/g,' ')"}}}},
{"data":{"values":[{"a":0.426,"b":3.795,"lo":40000000,"hi":101000000}]},"mark":{"type":"rect","fill":"#ffffcc","stroke":"#000000","strokeWidth":1.2},
 "encoding":{"x":{"field":"a","type":"quantitative","scale":{"domain":[-0.682,60],"padding":0,"nice":false}},"x2":{"field":"b"},"y":{"field":"lo","type":"quantitative","scale":{"domain":[0,422000000]}},"y2":{"field":"hi"}}},
{"data":{"values":[{"x":0.6,"v":70000000,"t":"V: 144 299 713"}]},"mark":{"type":"text","color":"#000000"},
 "encoding":{"x":{"field":"x","type":"quantitative","scale":{"domain":[-0.682,60],"padding":0,"nice":false}},"y":{"field":"v","type":"quantitative","scale":{"domain":[0,422000000]}},"text":{"field":"t"}}}
]
},
{"width":1423,"height":5,"view":{"stroke":null,"fill":null},"data":{"values":[{"g":0}]},"mark":{"type":"rule","opacity":0},"encoding":{"y":{"field":"g","type":"quantitative","axis":null}}},
{
"width":1423,"height":101,
"layer":[
{"data":{"name":"days"},"mark":{"type":"bar","width":6,"color":"#06a106","clip":true},
 "encoding":{"x":{"field":"i","type":"quantitative","scale":{"domain":[-0.682,60],"padding":0,"nice":false},"axis":{"values":[0,8,27,47],"labels":false,"ticks":false}},
 "y":{"field":"hist","type":"quantitative","stack":null,"scale":{"domain":[-42.3,199.5]},"axis":{"orient":"right","values":[0,50,100,150]}}}},
{"data":{"values":[{"v":0}]},"mark":{"type":"rule","color":"#000000","strokeWidth":1.2},"encoding":{"y":{"field":"v","type":"quantitative","scale":{"domain":[-42.3,199.5]}}}},
{"data":{"name":"days"},"transform":[{"fold":["sig","macd"],"as":["series","value"]}],"mark":{"type":"line","strokeWidth":1.3,"clip":true},
 "encoding":{"x":{"field":"i","type":"quantitative","scale":{"domain":[-0.682,60],"padding":0,"nice":false}},"y":{"field":"value","type":"quantitative","scale":{"domain":[-42.3,199.5]}},
 "color":{"field":"series","type":"nominal","legend":null,"scale":{"domain":["sig","macd"],"range":["#f0b000","#0000d8"]}}}},
{"data":{"values":[{"i":12,"a":198,"b":172,"s":"sell"},{"i":41,"a":198,"b":155.5,"s":"sell"},{"i":57,"a":198,"b":130,"s":"sell"},{"i":29,"a":-41,"b":107,"s":"buy"},{"i":55,"a":-41,"b":142,"s":"buy"}]},"mark":{"type":"rule","strokeWidth":1.4},
 "encoding":{"x":{"field":"i","type":"quantitative","scale":{"domain":[-0.682,60],"padding":0,"nice":false}},"y":{"field":"a","type":"quantitative","scale":{"domain":[-42.3,199.5]}},"y2":{"field":"b"},
 "stroke":{"field":"s","type":"nominal","legend":null,"scale":{"domain":["sell","buy"],"range":["#f00000","#00c000"]}}}},
{"data":{"values":[{"i":12,"a":189,"s":"sell"},{"i":41,"a":189,"s":"sell"},{"i":57,"a":189,"s":"sell"},{"i":29,"a":-32,"s":"buy"},{"i":55,"a":-32,"s":"buy"}]},"mark":{"type":"point","filled":true,"opacity":1,"size":70},
 "encoding":{"x":{"field":"i","type":"quantitative","scale":{"domain":[-0.682,60],"padding":0,"nice":false}},"y":{"field":"a","type":"quantitative","scale":{"domain":[-42.3,199.5]}},
 "shape":{"field":"s","type":"nominal","legend":null,"scale":{"domain":["sell","buy"],"range":["triangle-down","triangle-up"]}},
 "fill":{"field":"s","type":"nominal","legend":null,"scale":{"domain":["sell","buy"],"range":["#f00000","#00c000"]}}}},
{"data":{"values":[{"a":0.426,"b":3.625,"lo":-20.8,"hi":12.7}]},"mark":{"type":"rect","fill":"#ffffcc","stroke":"#000000","strokeWidth":1.2},
 "encoding":{"x":{"field":"a","type":"quantitative","scale":{"domain":[-0.682,60],"padding":0,"nice":false}},"x2":{"field":"b"},"y":{"field":"lo","type":"quantitative","scale":{"domain":[-42.3,199.5]}},"y2":{"field":"hi"}}},
{"data":{"values":[{"x":0.6,"v":-4,"t":"MACD: 134,03"},{"x":-0.6,"v":180,"t":"23,96]"}]},"mark":{"type":"text","color":"#000000"},
 "encoding":{"x":{"field":"x","type":"quantitative","scale":{"domain":[-0.682,60],"padding":0,"nice":false}},"y":{"field":"v","type":"quantitative","scale":{"domain":[-42.3,199.5]}},"text":{"field":"t"}}}
]
},
{"width":1423,"height":5,"view":{"stroke":null,"fill":null},"data":{"values":[{"g":0}]},"mark":{"type":"rule","opacity":0},"encoding":{"y":{"field":"g","type":"quantitative","axis":null}}},
{
"width":1423,"height":101,
"layer":[
{"data":{"name":"days"},"transform":[{"fold":["mdi","pdi","adx"],"as":["series","value"]}],"mark":{"type":"line","strokeWidth":1.2,"clip":true},
 "encoding":{"x":{"field":"i","type":"quantitative","scale":{"domain":[-0.682,60],"padding":0,"nice":false},"axis":{"values":[0,8,27,47],"labels":false,"ticks":false}},
 "y":{"field":"value","type":"quantitative","scale":{"domain":[8.05,42.5]},"axis":{"orient":"right","values":[10,15,20,25,30,35,40]}},
 "color":{"field":"series","type":"nominal","legend":null,"scale":{"domain":["mdi","pdi","adx"],"range":["#f0b000","#06a106","#0000d8"]}}}},
{"data":{"values":[{"i":23,"a":42.4,"b":31.8,"s":"sell"},{"i":25,"a":8.1,"b":29,"s":"buy"}]},"mark":{"type":"rule","strokeWidth":1.4},
 "encoding":{"x":{"field":"i","type":"quantitative","scale":{"domain":[-0.682,60],"padding":0,"nice":false}},"y":{"field":"a","type":"quantitative","scale":{"domain":[8.05,42.5]}},"y2":{"field":"b"},
 "stroke":{"field":"s","type":"nominal","legend":null,"scale":{"domain":["sell","buy"],"range":["#f00000","#00c000"]}}}},
{"data":{"values":[{"i":23,"a":41,"s":"sell"},{"i":25,"a":9.55,"s":"buy"}]},"mark":{"type":"point","filled":true,"opacity":1,"size":70},
 "encoding":{"x":{"field":"i","type":"quantitative","scale":{"domain":[-0.682,60],"padding":0,"nice":false}},"y":{"field":"a","type":"quantitative","scale":{"domain":[8.05,42.5]}},
 "shape":{"field":"s","type":"nominal","legend":null,"scale":{"domain":["sell","buy"],"range":["triangle-down","triangle-up"]}},
 "fill":{"field":"s","type":"nominal","legend":null,"scale":{"domain":["sell","buy"],"range":["#f00000","#00c000"]}}}},
{"data":{"values":[{"a":0.426,"b":2.94,"lo":11.4,"hi":16},{"a":60.1,"b":61.2,"lo":5.7,"hi":10.2}]},"mark":{"type":"rect","fill":"#ffffcc","stroke":"#000000","strokeWidth":1.2,"clip":false},
 "encoding":{"x":{"field":"a","type":"quantitative","scale":{"domain":[-0.682,60],"padding":0,"nice":false}},"x2":{"field":"b"},"y":{"field":"lo","type":"quantitative","scale":{"domain":[8.05,42.5]}},"y2":{"field":"hi"}}},
{"data":{"values":[{"x":0.6,"v":13.7,"t":"DMI: 21,75"},{"x":60.2,"v":7.9,"t":"7,92"},{"x":-0.68,"v":39.8,"t":",19]"}]},"mark":{"type":"text","color":"#000000"},
 "encoding":{"x":{"field":"x","type":"quantitative","scale":{"domain":[-0.682,60],"padding":0,"nice":false}},"y":{"field":"v","type":"quantitative","scale":{"domain":[8.05,42.5]}},"text":{"field":"t"}}}
]
},
{
"width":1497,"height":36,"view":{"stroke":null,"fill":null},
"layer":[
{"data":{"values":[{"x0":0,"x1":1497,"y0":8.5,"y1":36}]},"mark":{"type":"rect","color":"#a2675f"},
 "encoding":{"x":{"field":"x0","type":"quantitative","scale":{"domain":[0,1497]},"axis":null},"x2":{"field":"x1"},"y":{"field":"y0","type":"quantitative","scale":{"domain":[36,0]},"axis":null},"y2":{"field":"y1"}}},
{"data":{"values":[{"y":8}]},"mark":{"type":"rule","color":"#e08a84","strokeWidth":1.5},"encoding":{"y":{"field":"y","type":"quantitative","scale":{"domain":[36,0]},"axis":null}}},
{"data":{"values":[{"y":34.5}]},"mark":{"type":"rule","color":"#000000","strokeWidth":1.5},"encoding":{"y":{"field":"y","type":"quantitative","scale":{"domain":[36,0]},"axis":null}}}
]
}
]
}
